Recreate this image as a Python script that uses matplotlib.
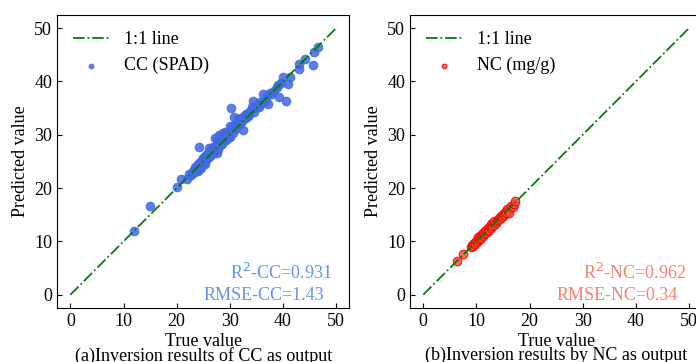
import numpy as np
import matplotlib.pyplot as plt

plt.rcParams['font.family'] = ['Liberation Serif', 'DejaVu Serif']
plt.rcParams['font.size'] = 13

# CC (SPAD): true vs predicted
cc_true = [11.9, 15.0, 20.0, 20.9, 21.9, 22.4, 22.7, 23.0, 23.1, 23.3, 23.5, 23.6,
           23.8, 24.0, 24.1, 24.3, 24.25, 24.4, 24.6, 24.7, 24.9, 25.0, 25.2, 25.3,
           25.4, 25.6, 25.7, 25.9, 26.0, 26.1, 26.3, 26.4, 26.6, 26.7, 26.9, 27.0,
           27.2, 27.3, 27.4, 27.5, 27.6, 27.8, 27.9, 28.0, 28.1, 28.3, 28.4, 28.6,
           28.7, 28.9, 29.0, 29.1, 29.3, 29.4, 29.6, 29.7, 29.9, 30.0, 30.1, 30.2,
           30.3, 30.5, 30.6, 30.8, 30.9, 31.0, 31.2, 31.3, 31.5, 31.6, 31.8, 32.0,
           32.1, 32.3, 32.5, 32.6, 32.8, 33.0, 33.2, 33.5, 33.7, 34.0, 34.2, 34.4,
           34.5, 34.8, 35.1, 35.4, 35.7, 36.0, 36.3, 36.6, 37.1, 37.0, 37.5, 37.9,
           38.3, 38.8, 39.0, 39.25, 39.6, 40.1, 40.6, 40.9, 41.25, 43.0, 43.1, 44.2,
           45.6, 45.9, 46.6]
cc_pred = [12.0, 16.6, 20.2, 21.7, 21.7, 22.6, 22.4, 23.3, 22.8, 23.0, 23.9, 23.2,
           23.6, 24.5, 23.3, 24.2, 27.8, 24.9, 23.8, 25.2, 24.6, 25.7, 25.0, 24.6,
           26.1, 25.3, 26.4, 25.9, 27.6, 25.8, 26.9, 26.2, 27.3, 26.5, 27.8, 26.8,
           27.1, 29.4, 27.9, 26.6, 29.1, 27.4, 28.4, 29.9, 28.0, 28.8, 29.6, 28.2,
           30.3, 29.0, 29.3, 30.6, 29.0, 30.0, 29.4, 30.4, 30.0, 31.6, 29.6, 35.0,
           30.9, 31.3, 30.4, 33.4, 31.1, 32.0, 31.5, 32.6, 31.9, 33.0, 32.4, 32.1,
           33.1, 32.6, 30.9, 33.6, 33.1, 33.9, 33.4, 34.1, 33.8, 34.6, 35.2, 36.4,
           34.3, 35.0, 35.6, 35.3, 36.1, 35.9, 37.6, 36.4, 35.75, 37.2, 37.9, 37.6,
           38.3, 38.9, 39.3, 37.1, 39.7, 40.75, 36.4, 39.5, 40.75, 42.3, 43.25, 44.2,
           43.1, 45.6, 46.5]

# NC (mg/g): true vs predicted
nc_true = [6.3, 7.4, 8.9, 9.2, 9.4, 9.6, 9.8, 10.0, 10.1, 10.3, 10.4, 10.6, 10.7,
           10.9, 11.0, 11.2, 11.3, 11.5, 11.6, 11.8, 11.9, 12.1, 12.2, 12.4, 12.5,
           12.7, 12.8, 13.0, 13.1, 13.3, 13.4, 13.6, 13.8, 14.0, 14.2, 14.4, 14.6,
           14.8, 15.0, 15.2, 15.4, 15.6, 15.8, 16.0, 16.2, 16.5, 16.8, 17.0, 17.3]
nc_pred = [6.4, 7.7, 8.9, 9.3, 9.1, 9.7, 9.5, 10.1, 9.8, 10.9, 10.2, 10.5, 11.0,
           10.7, 11.3, 11.0, 11.6, 11.3, 11.9, 11.6, 12.2, 11.9, 12.5, 12.2, 12.9,
           12.5, 13.2, 12.9, 13.4, 13.1, 13.8, 13.5, 13.9, 14.1, 14.4, 14.2, 14.8,
           14.5, 15.2, 14.9, 15.6, 15.3, 16.0, 15.7, 15.3, 16.6, 16.5, 17.1, 17.5]

line_x = [0, 50]


def draw_panel(ax, xt, yt, color, edge, label, txt_color, r2, rmse, name, title):
    ax.plot(line_x, line_x, '-.', color='green', lw=1.3, label='1:1 line', zorder=3)
    ax.scatter(xt, yt, s=38, c=color, edgecolors=edge, linewidths=0.8,
               alpha=0.85, label=label, zorder=2)
    ax.set_xticks(range(0, 51, 10))
    ax.set_yticks(range(0, 51, 10))
    ax.tick_params(direction='in')
    ax.set_ylabel('Predicted value')
    ax.set_xlabel('True value\n' + title, linespacing=0.78, labelpad=2)
    ax.text(30, 3, r'R$^2$-' + name + '=' + r2, color=txt_color)
    ax.text(25, -1, 'RMSE-' + name + '=' + rmse, color=txt_color)
    ax.legend(loc='upper left', frameon=False, markerscale=0.55)


fig = plt.figure(figsize=(6.96, 3.62), dpi=100)
ax1 = fig.add_axes([0.082, 0.149, 0.42, 0.81])
ax2 = fig.add_axes([0.589, 0.149, 0.42, 0.81])

draw_panel(ax1, cc_true, cc_pred, 'royalblue', 'royalblue', 'CC (SPAD)',
           'cornflowerblue', '0.931', '1.43', 'CC',
           '(a)Inversion results of CC as output')
draw_panel(ax2, nc_true, nc_pred, '#ff4a3d', 'red', 'NC (mg/g)',
           'salmon', '0.962', '0.34', 'NC',
           '(b)Inversion results by NC as output')

fig.savefig('out.png', dpi=100)
